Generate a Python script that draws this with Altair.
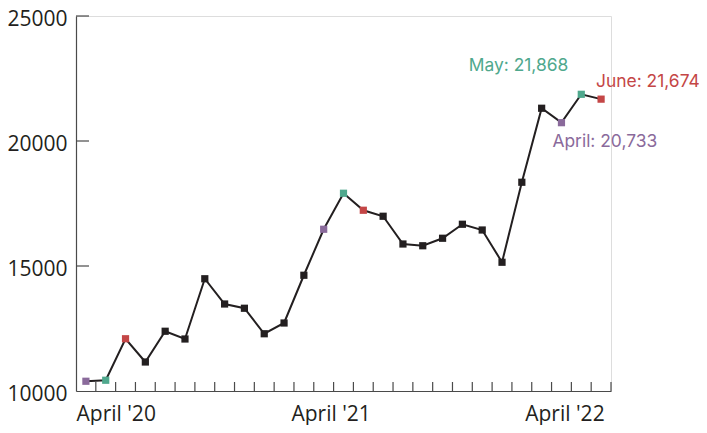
import altair as alt
import pandas as pd

# Monthly values, April 2020 – June 2022
months = ["Apr 20", "May 20", "Jun 20", "Jul 20", "Aug 20", "Sep 20", "Oct 20", "Nov 20", "Dec 20",
          "Jan 21", "Feb 21", "Mar 21", "Apr 21", "May 21", "Jun 21", "Jul 21", "Aug 21", "Sep 21",
          "Oct 21", "Nov 21", "Dec 21", "Jan 22", "Feb 22", "Mar 22", "Apr 22", "May 22", "Jun 22"]
values = [10390, 10430, 12090, 11160, 12390, 12080, 14490, 13480, 13310,
          12290, 12720, 14630, 16470, 17910, 17230, 16990, 15880, 15810,
          16110, 16670, 16440, 15150, 18350, 21310, 20733, 21868, 21674]
highlight = ["April", "May", "June", "other", "other", "other", "other", "other", "other",
             "other", "other", "other", "April", "May", "June", "other", "other", "other",
             "other", "other", "other", "other", "other", "other", "April", "May", "June"]

x_label_pos = [-0.5, 12.35, 24.15, 26.5]
x_label_text = ["April '20", "April '21", "April '22", ""]
y_ticks = [10000, 15000, 20000, 25000]
x_tick_pos = [i + 0.5 for i in range(27)]

annot_idx = [24, 25, 26]
annot_text = ["April: 20,733", "May: 21,868", "June: 21,674"]

cat_domain = ["April", "May", "June", "other"]
cat_colors = ["#8a6a9b", "#4fa88d", "#c44646", "#231f20"]

W, H = 535, 375

df = pd.DataFrame({"idx": list(range(len(values))), "month": months,
                   "value": values, "cat": highlight})
ann = pd.DataFrame({"idx": annot_idx, "value": [values[i] for i in annot_idx],
                    "text": annot_text, "cat": [highlight[i] for i in annot_idx]})

label_expr = " : ".join(
    f"datum.value == {p} ? \"{t}\"" for p, t in zip(x_label_pos, x_label_text)
) + " : ''"

xscale = alt.Scale(domain=[-0.5, 26.5], nice=False, zero=False)
yscale = alt.Scale(domain=[10000, 25000], nice=False, zero=False)

axis_color = "#4a4a4a"
text_color = "#231f20"

x_axis = alt.Axis(values=x_label_pos, labelExpr=label_expr, ticks=False, tickSize=0,
                  grid=False, title=None, domainColor=axis_color, domainWidth=1.2,
                  labelFont="Open Sans", labelFontSize=21, labelColor=text_color,
                  labelPadding=12, labelFlush=True, labelOverlap=False)
y_axis = alt.Axis(values=y_ticks, format="d", ticks=False, tickSize=0, grid=False,
                  title=None, domainColor=axis_color, domainWidth=1.2,
                  labelFont="Open Sans", labelFontSize=21, labelColor=text_color,
                  labelPadding=9, labelOffset=3)

line = alt.Chart(df).mark_line(color=text_color, strokeWidth=2).encode(
    x=alt.X("idx:Q", scale=xscale, axis=x_axis),
    y=alt.Y("value:Q", scale=yscale, axis=y_axis),
)

xt = alt.Chart(pd.DataFrame({"b": x_tick_pos})).mark_rule(color=axis_color, strokeWidth=1.2).encode(
    x=alt.X("b:Q", scale=xscale),
    y=alt.value(H - 9),
    y2=alt.value(H),
)

yt = alt.Chart(pd.DataFrame({"t": y_ticks[1:]})).mark_rule(color=axis_color, strokeWidth=1.2).encode(
    y=alt.Y("t:Q", scale=yscale),
    x=alt.value(0),
    x2=alt.value(13),
)

pts = alt.Chart(df).mark_square(size=52, opacity=1).encode(
    x=alt.X("idx:Q", scale=xscale),
    y=alt.Y("value:Q", scale=yscale),
    color=alt.Color("cat:N", scale=alt.Scale(domain=cat_domain, range=cat_colors), legend=None),
)

def annot(i, align, dx, dy):
    return alt.Chart(ann.iloc[[i]]).mark_text(
        align=align, baseline="alphabetic", dx=dx, dy=dy,
        font="Inter", fontSize=17.4, color=cat_colors[i]
    ).encode(
        x=alt.X("idx:Q", scale=xscale),
        y=alt.Y("value:Q", scale=yscale),
        text="text:N",
    )

a_apr = annot(0, "left", -9, 24)
a_may = annot(1, "right", -13, -23)
a_jun = annot(2, "left", -5, -12)

chart = alt.layer(xt, yt, line, pts, a_apr, a_may, a_jun).properties(
    width=W, height=H,
    autosize=alt.AutoSizeParams(type="none"),
    padding={"left": 68, "top": 8, "right": 88, "bottom": 34},
).configure_view(stroke=None).configure(background="white")

chart.save("out.html", embed_options={"renderer": "svg", "actions": False})
